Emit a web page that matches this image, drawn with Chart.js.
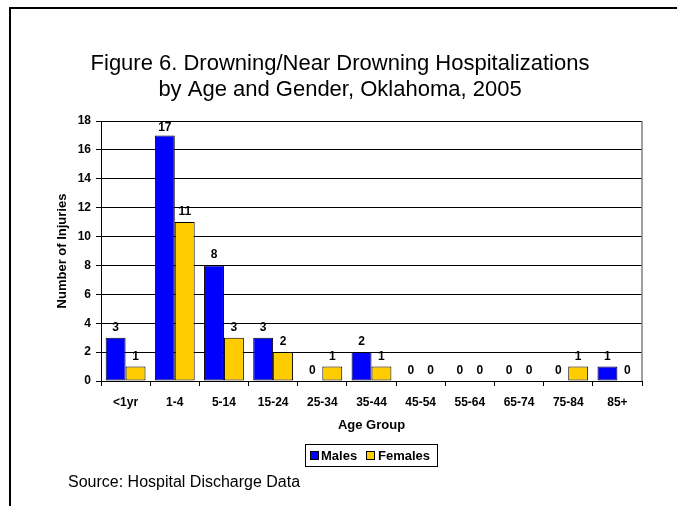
<!DOCTYPE html>
<html>
<head>
<meta charset="utf-8">
<script src="https://cdn.jsdelivr.net/npm/chart.js@4.4.0/dist/chart.umd.min.js"></script>
<style>
html,body{margin:0;padding:0;background:#fff;}
#wrap{width:677px;height:506px;position:relative;}
</style>
</head>
<body>
<div id="wrap"><canvas id="c" width="677" height="506"></canvas></div>
<script>
const categories = ['<1yr','1-4','5-14','15-24','25-34','35-44','45-54','55-64','65-74','75-84','85+'];
const males = [3,17,8,3,0,2,0,0,0,0,1];
const females = [1,11,3,2,1,1,0,0,0,1,0];
const yTickValues = [0,2,4,6,8,10,12,14,16,18];
const seriesNames = ['Males','Females'];
const titleLines = ['Figure 6. Drowning/Near Drowning Hospitalizations','by Age and Gender, Oklahoma, 2005'];
const xAxisTitle = 'Age Group';
const yAxisTitle = 'Number of Injuries';
const sourceNote = 'Source: Hospital Discharge Data';

const FONT = "'Liberation Sans', Arial, sans-serif";
const BLUE = '#0000FF';
const YELLOW = '#FFCC00';

const deco = {
  id: 'deco',
  beforeDraw(chart) {
    const ctx = chart.ctx;
    ctx.save();
    ctx.fillStyle = '#fff';
    ctx.fillRect(0, 0, chart.width, chart.height);
    ctx.strokeStyle = '#000';
    ctx.lineWidth = 2;
    ctx.beginPath();
    ctx.moveTo(10, chart.height);
    ctx.lineTo(10, 8);
    ctx.lineTo(chart.width, 8);
    ctx.stroke();
    ctx.restore();
  },
  afterDatasetsDraw(chart) {
    const ctx = chart.ctx;
    const area = chart.chartArea;
    ctx.save();
    // right border of plot area
    ctx.strokeStyle = '#808080';
    ctx.lineWidth = 1.5;
    ctx.beginPath();
    ctx.moveTo(area.right, area.top);
    ctx.lineTo(area.right, area.bottom);
    ctx.stroke();
    // data labels
    ctx.fillStyle = '#000';
    ctx.font = 'bold 12px ' + FONT;
    ctx.textAlign = 'center';
    ctx.textBaseline = 'alphabetic';
    chart.data.datasets.forEach((ds, di) => {
      const meta = chart.getDatasetMeta(di);
      meta.data.forEach((el, i) => {
        let y = el.y - 7;
        if (y < area.top + 10) y = area.top + 10;
        ctx.fillText(String(ds.data[i]), el.x, y);
      });
    });
    ctx.restore();
  },
  afterDraw(chart) {
    const ctx = chart.ctx;
    ctx.save();
    ctx.fillStyle = '#000';
    // title
    ctx.font = '22px ' + FONT;
    ctx.textAlign = 'center';
    ctx.textBaseline = 'alphabetic';
    ctx.fillText(titleLines[0], 340, 70);
    ctx.fillText(titleLines[1], 340, 96);
    // legend
    const bx = 305.5, by = 444.5, bw = 132, bh = 22;
    ctx.strokeStyle = '#000';
    ctx.lineWidth = 1;
    ctx.strokeRect(bx, by, bw, bh);
    ctx.font = 'bold 13px ' + FONT;
    ctx.textAlign = 'left';
    ctx.textBaseline = 'middle';
    const items = [
      {x: 310, tx: 321, color: chart.data.datasets[0].backgroundColor, label: chart.data.datasets[0].label},
      {x: 366, tx: 378, color: chart.data.datasets[1].backgroundColor, label: chart.data.datasets[1].label}
    ];
    items.forEach(it => {
      ctx.fillStyle = it.color;
      ctx.fillRect(it.x + 0.5, 451.5, 8, 8);
      ctx.strokeRect(it.x + 0.5, 451.5, 8, 8);
      ctx.fillStyle = '#000';
      ctx.fillText(it.label, it.tx, 456);
    });
    // source
    ctx.font = '16px ' + FONT;
    ctx.textBaseline = 'alphabetic';
    ctx.fillText(sourceNote, 68, 487);
    ctx.restore();
  }
};

new Chart(document.getElementById('c'), {
  type: 'bar',
  data: {
    labels: categories,
    datasets: [
      {label: seriesNames[0], data: males, backgroundColor: BLUE, borderColor: '#000', borderWidth: 1, borderSkipped: false},
      {label: seriesNames[1], data: females, backgroundColor: YELLOW, borderColor: '#000', borderWidth: 1, borderSkipped: false}
    ]
  },
  options: {
    responsive: false,
    animation: false,
    devicePixelRatio: 1,
    categoryPercentage: 0.81,
    barPercentage: 1.0,
    layout: {padding: {left: 51, right: 35, top: 121, bottom: 70}},
    plugins: {
      legend: {display: false},
      title: {display: false},
      tooltip: {enabled: false}
    },
    scales: {
      x: {
        grid: {display: true, drawOnChartArea: false, drawTicks: true, tickLength: 5, color: '#000', offset: true},
        border: {display: true, color: '#000', width: 1},
        ticks: {font: {family: FONT, size: 12, weight: 'bold'}, color: '#000', padding: 9, maxRotation: 0, autoSkip: false},
        title: {display: true, text: xAxisTitle, font: {family: FONT, size: 13, weight: 'bold'}, color: '#000', padding: {top: 4, bottom: 3}},
        afterFit(s) { s.height = 55; }
      },
      y: {
        min: 0, max: 18,
        afterBuildTicks(s) { s.ticks = yTickValues.map(v => ({value: v})); },
        grid: {display: true, color: '#000', lineWidth: 1, tickLength: 5, drawTicks: true},
        border: {display: true, color: '#000', width: 1},
        ticks: {font: {family: FONT, size: 12, weight: 'bold'}, color: '#000', padding: 5},
        title: {display: true, text: yAxisTitle, font: {family: FONT, size: 13, weight: 'bold'}, color: '#000', padding: {top: 4, bottom: 4}},
        afterFit(s) { s.width = 50; }
      }
    }
  },
  plugins: [deco]
});
</script>
</body>
</html>
